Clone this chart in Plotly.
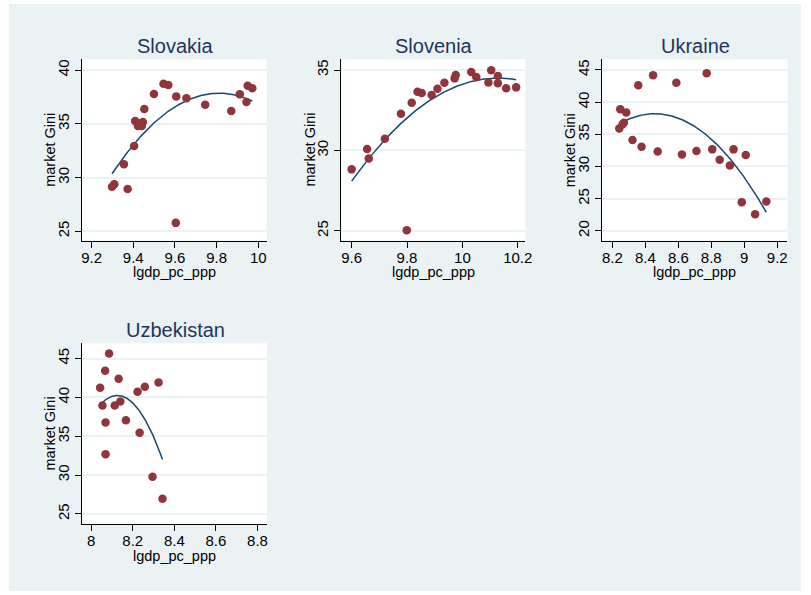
import numpy as np
import plotly.graph_objects as go

# ---- data: log GDP per capita (PPP) vs market Gini, by country ----
slovakia_x = [9.298, 9.309, 9.355, 9.373, 9.404, 9.409, 9.422, 9.433, 9.441, 9.446, 9.453,
              9.499, 9.545, 9.568, 9.606, 9.604, 9.655, 9.745, 9.870, 9.911, 9.943, 9.949, 9.971]
slovakia_y = [29.15, 29.37, 31.23, 28.94, 32.94, 35.26, 34.79, 35.04, 34.79, 35.17, 36.37,
              37.77, 38.73, 38.61, 37.55, 25.78, 37.37, 36.78, 36.19, 37.74, 37.03, 38.54, 38.30]

slovenia_x = [9.600, 9.656, 9.662, 9.720, 9.778, 9.799, 9.817, 9.838, 9.853, 9.889, 9.910,
              9.935, 9.972, 9.976, 10.032, 10.050, 10.094, 10.104, 10.128, 10.128, 10.158, 10.194]
slovenia_y = [28.82, 30.08, 29.50, 30.73, 32.28, 25.04, 32.97, 33.65, 33.57, 33.44, 33.84,
              34.21, 34.48, 34.69, 34.88, 34.56, 34.23, 34.98, 34.63, 34.17, 33.86, 33.92]

ukraine_x = [8.242, 8.248, 8.262, 8.270, 8.284, 8.322, 8.357, 8.377, 8.447, 8.475, 8.588,
             8.622, 8.710, 8.772, 8.806, 8.851, 8.913, 8.935, 8.985, 9.009, 9.066, 9.134]
ukraine_y = [35.92, 38.88, 36.55, 36.81, 38.41, 34.11, 42.61, 33.07, 44.17, 32.34, 43.03,
             31.88, 32.40, 44.48, 32.66, 31.05, 30.17, 32.66, 24.46, 31.78, 22.59, 24.56]

uzbekistan_x = [8.043, 8.054, 8.067, 8.069, 8.069, 8.086, 8.113, 8.132, 8.140, 8.167, 8.223,
                8.233, 8.258, 8.295, 8.324, 8.343]
uzbekistan_y = [41.23, 38.96, 43.42, 36.78, 32.67, 45.64, 38.96, 42.38, 39.47, 37.07, 40.71,
                35.44, 41.36, 29.79, 41.92, 26.97]

countries = ["Slovakia", "Slovenia", "Ukraine", "Uzbekistan"]
xs = [slovakia_x, slovenia_x, ukraine_x, uzbekistan_x]
ys = [slovakia_y, slovenia_y, ukraine_y, uzbekistan_y]

x_ticks = [[9.2, 9.4, 9.6, 9.8, 10], [9.6, 9.8, 10, 10.2],
           [8.2, 8.4, 8.6, 8.8, 9, 9.2], [8, 8.2, 8.4, 8.6, 8.8]]
x_ticktext = [["9.2", "9.4", "9.6", "9.8", "10"], ["9.6", "9.8", "10", "10.2"],
              ["8.2", "8.4", "8.6", "8.8", "9", "9.2"], ["8", "8.2", "8.4", "8.6", "8.8"]]
y_ticks = [[25, 30, 35, 40], [25, 30, 35], [20, 25, 30, 35, 40, 45], [25, 30, 35, 40, 45]]

x_ranges = [[9.152, 10.04], [9.5628, 10.2276], [8.1375, 9.262], [7.9537, 8.8458]]
y_ranges = [[24.13, 41.0], [24.39, 35.666], [18.48, 46.66], [23.71, 46.955]]

# ---- layout geometry (pixels in an 811 x 595 canvas) ----
W, H = 811, 595
panels = [  # left, right, top, bottom of each plot region
    (82.3, 269.0, 59.3, 240.6),
    (344.3, 530.0, 59.3, 240.6),
    (607.3, 794.3, 59.3, 240.6),
    (82.3, 269.3, 343.3, 524.0),
]

BG = "#eaf2f3"
DOT = "#90353b"
LINE = "#1a476f"
TITLE = "#1e3560"
FONT = "Liberation Sans, Arial, sans-serif"
TICK_SIZE = 15

fig = go.Figure()
layout = dict(
    width=W, height=H,
    margin=dict(l=0, r=0, t=0, b=0, pad=0),
    paper_bgcolor="white",
    plot_bgcolor="white",
    showlegend=False,
    font=dict(family=FONT, color="black", size=15),
    shapes=[dict(type="rect", xref="paper", yref="paper", x0=9 / W, x1=808 / W,
                 y0=1 - 591 / H, y1=1 - 4 / H, line=dict(width=0), fillcolor=BG,
                 layer="below")],
    annotations=[],
)

for i, name in enumerate(countries):
    n = "" if i == 0 else str(i + 1)
    xa, ya = "x" + n, "y" + n
    left, right, top, bottom = panels[i]

    # white plot region
    layout["shapes"].append(dict(type="rect", xref="paper", yref="paper",
                                 x0=left / W, x1=right / W, y0=1 - bottom / H, y1=1 - top / H,
                                 line=dict(width=0), fillcolor="white", layer="below"))

    x = np.array(xs[i])
    y = np.array(ys[i])
    # quadratic prediction line
    coef = np.polyfit(x, y, 2)
    xf = np.linspace(x.min(), x.max(), 200)
    yf = np.polyval(coef, xf)

    fig.add_trace(go.Scatter(x=xf, y=yf, mode="lines", xaxis=xa, yaxis=ya,
                             line=dict(color=LINE, width=1.5), hoverinfo="skip"))
    fig.add_trace(go.Scatter(x=x, y=y, mode="markers", xaxis=xa, yaxis=ya,
                             marker=dict(color=DOT, size=8.5, line=dict(width=0))))

    layout["xaxis" + n] = dict(
        domain=[left / W, right / W], anchor=ya, range=x_ranges[i],
        tickvals=x_ticks[i], ticktext=x_ticktext[i], showgrid=False, zeroline=False,
        showline=True, linecolor="black", linewidth=1,
        ticks="outside", ticklen=6, tickcolor="black", tickwidth=1,
        ticklabelstandoff=-3,
        tickfont=dict(size=TICK_SIZE, color="black", family=FONT),
    )
    layout["yaxis" + n] = dict(
        domain=[1 - bottom / H, 1 - top / H], anchor=xa, range=y_ranges[i],
        tickvals=y_ticks[i], tickangle=-90, showgrid=True, gridcolor=BG, gridwidth=1.5,
        zeroline=False, showline=True, linecolor="black", linewidth=1,
        ticks="outside", ticklen=6, tickcolor="black", tickwidth=1,
        tickfont=dict(size=TICK_SIZE, color="black", family=FONT),
    )

    cx = (left + right) / 2 / W
    cy = 1 - (top + bottom) / 2 / H
    layout["annotations"] += [
        dict(text=name, xref="paper", yref="paper", x=cx + 1 / W, y=1 - (top - 13.5) / H,
             xanchor="center", yanchor="middle", showarrow=False,
             font=dict(size=20, color=TITLE, family=FONT)),
        dict(text="lgdp_pc_ppp", xref="paper", yref="paper", x=cx, y=1 - (bottom + 31.5) / H,
             xanchor="center", yanchor="middle", showarrow=False,
             font=dict(size=14.5, color="black", family=FONT)),
        dict(text="market Gini", xref="paper", yref="paper", x=(left - 32) / W, y=cy,
             xanchor="center", yanchor="middle", textangle=-90, showarrow=False,
             font=dict(size=14.5, color="black", family=FONT)),
    ]

fig.update_layout(**layout)
fig.write_html("out.html")
